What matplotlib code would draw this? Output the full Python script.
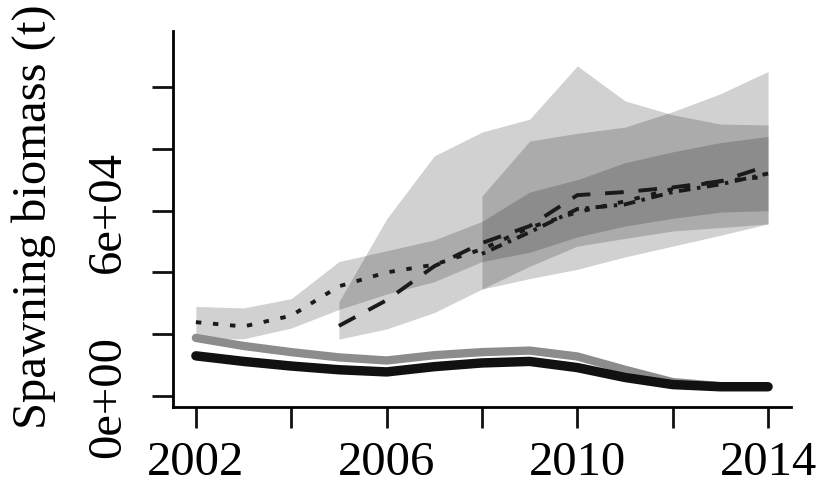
import numpy as np
import matplotlib.pyplot as plt

plt.rcParams['font.family'] = ['Liberation Serif', 'DejaVu Serif']

years = np.arange(2002, 2015)
yrs_b = np.arange(2005, 2015)
yrs_c = np.arange(2008, 2015)

# thick trajectories (t)
ssb_black = [13000, 11200, 9700, 8500, 7800, 9500, 10700, 11200, 9200, 6000, 3700, 3000, 3000]
ssb_grey = [18800, 16200, 14200, 12500, 11500, 13200, 14200, 14700, 12800, 8500, 4500, 3200, 3000]

# run starting 2002 (dotted) with interval
ssb_a = [23900, 22500, 26000, 35500, 40000, 42500, 47500, 54500, 59500, 63000, 67000, 69500, 71000]
lo_a = [18500, 18500, 22000, 28000, 33000, 37000, 43500, 46500, 51500, 55000, 57500, 59500, 60000]
hi_a = [29000, 28500, 31500, 43500, 47000, 50500, 56500, 66000, 70000, 75500, 79000, 82000, 84000]

# run starting 2005 (dashed)
ssb_b = [22700, 31000, 42000, 49500, 55000, 65000, 66000, 67500, 69500, 74500]
lo_b = [18400, 21700, 27000, 34600, 38000, 41000, 45000, 48500, 52000, 55700]
hi_b = [30500, 57300, 77700, 85400, 89600, 106800, 95500, 91000, 88000, 87700]

# run starting 2008 (dot-dash)
ssb_c = [46000, 53000, 60500, 62000, 66000, 68500, 72000]
lo_c = [34600, 42000, 48500, 51000, 53400, 54500, 55700]
hi_c = [64700, 82500, 85000, 87000, 92000, 97800, 105000]

fig = plt.figure(figsize=(8.21, 4.89), dpi=100)
ax = fig.add_axes([0.2107, 0.1656, 0.7527, 0.7689])

for x, lo, hi in [(years, lo_a, hi_a), (yrs_b, lo_b, hi_b), (yrs_c, lo_c, hi_c)]:
    ax.fill_between(x, lo, hi, color='k', alpha=0.18, linewidth=0)

ax.plot(years, ssb_a, color='#1a1a1a', lw=2.8, dashes=(1.4, 3.0))
ax.plot(yrs_b, ssb_b, color='#1a1a1a', lw=2.8, dashes=(4.8, 3.8))
ax.plot(yrs_c, ssb_c, color='#1a1a1a', lw=2.8, dashes=(0.9, 1.7, 3.0, 1.7))
ax.plot(years, ssb_grey, color='#8c8c8c', lw=6.0, solid_capstyle='round', solid_joinstyle='round')
ax.plot(years, ssb_black, color='#111111', lw=6.8, solid_capstyle='round', solid_joinstyle='round')

ax.set_xlim(2001.52, 2014.48)
ax.set_ylim(-3560, 118100)

ax.set_xticks(np.arange(2002, 2015, 2))
ax.set_xticklabels(['2002', '', '2006', '', '2010', '', '2014'])
ax.set_yticks(np.arange(0, 100001, 20000))
ax.set_yticklabels(['0e+00', '', '', '6e+04', '', ''], rotation=90, va='center')

ax.spines['top'].set_visible(False)
ax.spines['right'].set_visible(False)
for s in ['left', 'bottom']:
    ax.spines[s].set_linewidth(2.0)
ax.tick_params(axis='both', length=15, width=2.0, labelsize=35, color='#111111')
ax.tick_params(axis='x', pad=9)
ax.tick_params(axis='y', pad=16)

ax.set_ylabel('Spawning biomass (t)', fontsize=35)
ax.yaxis.set_label_coords(-0.19, 0.508)

fig.savefig('out.png', dpi=100)
